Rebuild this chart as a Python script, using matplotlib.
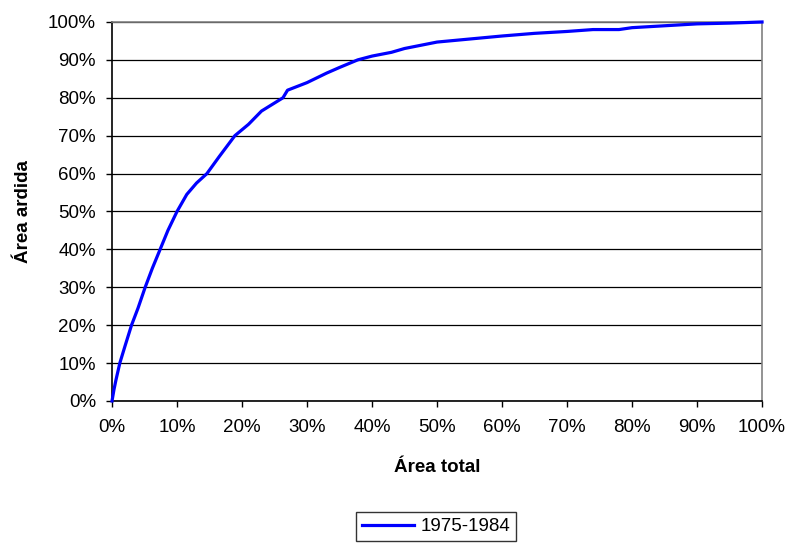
import matplotlib
matplotlib.use("Agg")
import matplotlib.pyplot as plt
from matplotlib.ticker import PercentFormatter

plt.rcParams['font.family'] = ['Liberation Sans', 'DejaVu Sans']

# cumulative share of total area (x) vs share of burnt area (y), in %
area_total = [0, 0.3, 0.6, 1.2, 2.0, 3.0, 4.0, 5.1, 6.2, 7.4, 8.6, 10, 11.5, 13,
              14.6, 16.5, 18.9, 21, 23, 26.3, 27, 30, 33, 35, 37.8, 40, 43, 45,
              50, 55, 60, 65, 70, 74, 78, 80, 85, 90, 95, 100]
area_ardida = [0, 3, 5.5, 10, 14.5, 20, 24.5, 30, 35, 40, 45, 50, 54.5, 57.5,
               60, 64.5, 70, 73, 76.5, 80, 82, 84, 86.5, 88, 90, 91, 92, 93,
               94.7, 95.5, 96.3, 97, 97.5, 98, 98, 98.5, 99, 99.5, 99.7, 100]
serie = "1975-1984"

fs = 13.5
fig = plt.figure(figsize=(7.9, 5.44), dpi=100)
ax = fig.add_axes([0.1418, 0.2629, 0.8228, 0.6967])

ax.plot(area_total, area_ardida, color='#0000ff', lw=2.3, label=serie,
        solid_joinstyle='round', clip_on=False, zorder=3)

ax.set_xlim(0, 100)
ax.set_ylim(0, 100)
ax.set_xticks(range(0, 101, 10))
ax.set_yticks(range(0, 101, 10))
ax.xaxis.set_major_formatter(PercentFormatter(decimals=0))
ax.yaxis.set_major_formatter(PercentFormatter(decimals=0))
ax.tick_params(labelsize=fs, length=4.5, width=1, direction='out', colors='black')
ax.tick_params(axis='x', pad=8.5)
ax.tick_params(axis='y', pad=7)
ax.grid(axis='y', color='black', lw=0.9)
ax.set_axisbelow(True)

for s in ['top', 'right']:
    ax.spines[s].set_color('#808080')
    ax.spines[s].set_linewidth(1.2)
for s in ['left', 'bottom']:
    ax.spines[s].set_color('black')
    ax.spines[s].set_linewidth(1.2)

fig.text(0.553, 0.141, "Área total", ha='center', va='center',
         fontsize=fs, fontweight='bold')
fig.text(0.030, 0.612, "Área ardida", ha='center', va='center',
         rotation=90, fontsize=fs, fontweight='bold')

leg = fig.legend(loc='center', bbox_to_anchor=(0.552, 0.032), fontsize=fs,
                 frameon=True, fancybox=False, handlelength=2.8,
                 borderpad=0.3, handletextpad=0.35, borderaxespad=0)
leg.get_frame().set_edgecolor('black')
leg.get_frame().set_linewidth(1)

fig.savefig("out.png", dpi=100)
